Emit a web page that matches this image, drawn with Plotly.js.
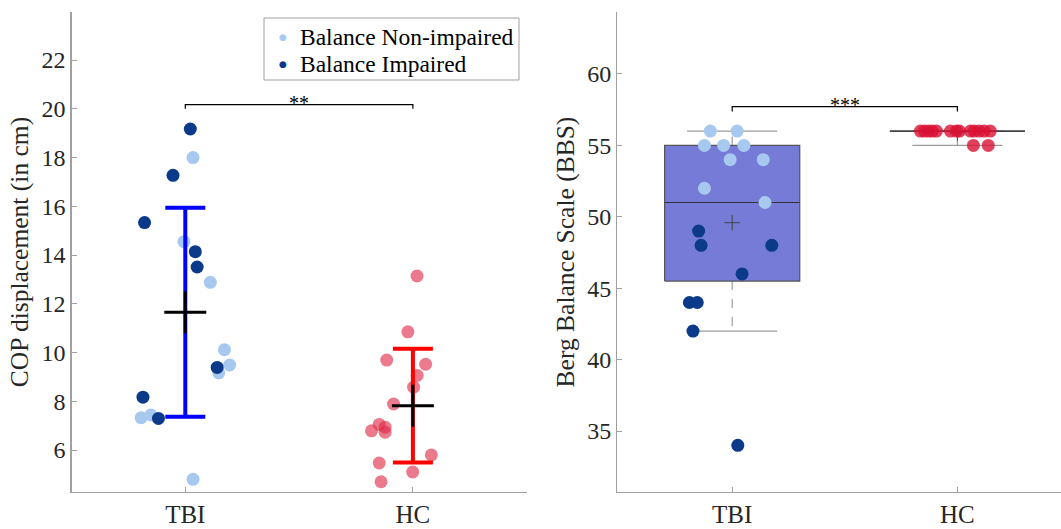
<!DOCTYPE html>
<html>
<head>
<meta charset="utf-8">
<script src="https://cdn.plot.ly/plotly-3.0.1.min.js"></script>
<style>html,body{margin:0;padding:0;background:#fff;}#chart{width:1061px;height:529px;}</style>
</head>
<body>
<div id="chart"></div>
<script>
// ---------- data ----------
const groups = ['TBI', 'HC'];
const groupPos = [1, 2];
const legendLabels = ['Balance Non-impaired', 'Balance Impaired'];

// COP displacement (cm)
const copTbiNonImp  = [18.0, 14.55, 12.88, 10.12, 9.49, 9.17, 7.33, 7.44, 4.80];
const copTbiNonImpX = [1.034, 0.994, 1.110, 1.172, 1.195, 1.147, 0.806, 0.849, 1.034];
const copTbiImp     = [19.17, 17.27, 15.33, 14.14, 13.51, 9.39, 8.17, 7.30];
const copTbiImpX    = [1.022, 0.946, 0.821, 1.044, 1.052, 1.140, 0.814, 0.882];
const copHc         = [13.14, 10.85, 9.69, 9.52, 9.06, 8.58, 7.89, 7.05, 6.79, 6.94, 6.73, 5.80, 5.47, 5.10, 4.70];
const copHcX        = [2.018, 1.978, 1.885, 2.056, 2.019, 2.003, 1.915, 1.852, 1.818, 1.878, 1.878, 2.081, 1.852, 1.999, 1.860];

// Berg Balance Scale
const bbsTbiNonImp  = [56, 56, 55, 55, 55, 54, 54, 52, 51];
const bbsTbiNonImpX = [0.903, 1.022, 0.877, 0.962, 1.052, 0.991, 1.138, 0.877, 1.146];
const bbsTbiImp     = [49, 48, 48, 46, 44, 44, 42, 34];
const bbsTbiImpX    = [0.851, 0.862, 1.176, 1.044, 0.810, 0.845, 0.826, 1.025];
const bbsHc         = [56, 56, 56, 56, 56, 56, 56, 56, 56, 56, 56, 56, 56, 55, 55];
const bbsHcX        = [1.836, 1.854, 1.872, 1.889, 1.907, 1.969, 1.996, 2.009, 2.058, 2.075, 2.097, 2.119, 2.146, 2.071, 2.137];

// box statistics (BBS)
const boxQ1      = [45.5, 56];
const boxMedian  = [51, 56];
const boxQ3      = [55, 56];
const whiskerLow = [42, 55];
const whiskerHigh= [56, 56];

// significance
const sigLeft  = {label: '**',  top: 20.17, foot: 20.0};
const sigRight = {label: '***', top: 57.72, foot: 57.38};

// ---------- helpers ----------
const mean = a => a.reduce((s, v) => s + v, 0) / a.length;
const sd = a => { const m = mean(a); return Math.sqrt(a.reduce((s, v) => s + (v - m) * (v - m), 0) / (a.length - 1)); };

const LIGHT = '#a8c9ef';
const DARK = '#0b3a8b';
const FONT = 'Liberation Serif';
const TXT = '#262626';
const AX = '#a0a0a0';

const copTbiAll = copTbiNonImp.concat(copTbiImp);
const copMeans = [mean(copTbiAll), mean(copHc)];
const copSds = [sd(copTbiAll), sd(copHc)];
const bbsTbiAll = bbsTbiNonImp.concat(bbsTbiImp);
const bbsMeans = [mean(bbsTbiAll), mean(bbsHc)];

const traces = [];

// ---- left panel points ----
traces.push({type: 'scatter', mode: 'markers', x: copTbiNonImpX, y: copTbiNonImp, xaxis: 'x', yaxis: 'y',
  marker: {color: LIGHT, size: 13}, showlegend: false, hoverinfo: 'skip'});
traces.push({type: 'scatter', mode: 'markers', x: copTbiImpX, y: copTbiImp, xaxis: 'x', yaxis: 'y',
  marker: {color: DARK, size: 13}, showlegend: false, hoverinfo: 'skip'});
traces.push({type: 'scatter', mode: 'markers', x: copHcX, y: copHc, xaxis: 'x', yaxis: 'y',
  marker: {color: 'rgba(222,40,70,0.62)', size: 13}, showlegend: false, hoverinfo: 'skip'});

// error bars (mean ± SD)
const ebColors = ['#0000ff', '#ff0000'];
groupPos.forEach((p, i) => {
  traces.push({type: 'scatter', mode: 'markers', x: [p], y: [copMeans[i]], xaxis: 'x', yaxis: 'y',
    marker: {size: 1, color: 'rgba(0,0,0,0)'},
    error_y: {type: 'data', array: [copSds[i]], color: ebColors[i], thickness: 4, width: 20},
    showlegend: false, hoverinfo: 'skip'});
});
traces.push({type: 'scatter', mode: 'markers', x: groupPos, y: copMeans, xaxis: 'x', yaxis: 'y',
  marker: {symbol: 'cross-thin', size: 30, line: {color: '#000', width: 3}, color: '#000'},
  showlegend: false, hoverinfo: 'skip'});

// significance bracket left
traces.push({type: 'scatter', mode: 'lines', x: [groupPos[0], groupPos[0], groupPos[1], groupPos[1]],
  y: [sigLeft.foot, sigLeft.top, sigLeft.top, sigLeft.foot], xaxis: 'x', yaxis: 'y',
  line: {color: '#000', width: 1.2}, showlegend: false, hoverinfo: 'skip'});

// ---- right panel boxes ----
const BW = 0.3, CW = 0.2;
groupPos.forEach((p, i) => {
  traces.push({type: 'scatter', mode: 'lines', x: [p, p, null, p, p],
    y: [boxQ3[i], whiskerHigh[i], null, boxQ1[i], whiskerLow[i]], xaxis: 'x2', yaxis: 'y2',
    line: {color: '#8a8a8a', width: 1, dash: i === 0 ? 'dash' : 'solid'}, showlegend: false, hoverinfo: 'skip'});
  traces.push({type: 'scatter', mode: 'lines', x: [p - CW, p + CW, null, p - CW, p + CW],
    y: [whiskerHigh[i], whiskerHigh[i], null, whiskerLow[i], whiskerLow[i]], xaxis: 'x2', yaxis: 'y2',
    line: {color: '#9a9a9a', width: 1.3}, showlegend: false, hoverinfo: 'skip'});
  traces.push({type: 'scatter', mode: 'lines', x: [p - BW, p + BW, p + BW, p - BW, p - BW],
    y: [boxQ1[i], boxQ1[i], boxQ3[i], boxQ3[i], boxQ1[i]], xaxis: 'x2', yaxis: 'y2',
    fill: 'toself', fillcolor: '#757bd6', line: {color: '#555', width: 1.2}, showlegend: false, hoverinfo: 'skip'});
  traces.push({type: 'scatter', mode: 'lines', x: [p - BW, p + BW], y: [boxMedian[i], boxMedian[i]],
    xaxis: 'x2', yaxis: 'y2', line: {color: '#333', width: 1.2}, showlegend: false, hoverinfo: 'skip'});
});
traces.push({type: 'scatter', mode: 'markers', x: groupPos, y: bbsMeans, xaxis: 'x2', yaxis: 'y2',
  marker: {symbol: 'cross-thin', size: 11, line: {color: '#444', width: 1}},
  showlegend: false, hoverinfo: 'skip'});

// right points
traces.push({type: 'scatter', mode: 'markers', x: bbsTbiNonImpX, y: bbsTbiNonImp, xaxis: 'x2', yaxis: 'y2',
  marker: {color: LIGHT, size: 13}, showlegend: false, hoverinfo: 'skip'});
traces.push({type: 'scatter', mode: 'markers', x: bbsTbiImpX, y: bbsTbiImp, xaxis: 'x2', yaxis: 'y2',
  marker: {color: DARK, size: 13}, showlegend: false, hoverinfo: 'skip'});
traces.push({type: 'scatter', mode: 'markers', x: bbsHcX, y: bbsHc, xaxis: 'x2', yaxis: 'y2',
  marker: {color: 'rgba(218,18,52,0.8)', size: 13}, showlegend: false, hoverinfo: 'skip'});

// significance bracket right
traces.push({type: 'scatter', mode: 'lines', x: [groupPos[0], groupPos[0], groupPos[1], groupPos[1]],
  y: [sigRight.foot, sigRight.top, sigRight.top, sigRight.foot], xaxis: 'x2', yaxis: 'y2',
  line: {color: '#000', width: 1.2}, showlegend: false, hoverinfo: 'skip'});

const axisCommon = {
  showgrid: false, zeroline: false, showline: true, linecolor: AX, linewidth: 1.3,
  ticks: 'inside', ticklen: 5, tickcolor: AX, tickwidth: 1,
  tickfont: {family: FONT, size: 24, color: TXT}
};
const titleFont = {family: FONT, size: 25.5, color: TXT};

// manual legend (paper coordinates, px -> paper)
const W = 1061, PT = 12, PH = 480;
const px2x = px => px / W;
const py2y = py => 1 - (py - PT) / PH;
const legendRowsPx = [37, 64];
const legendColors = [LIGHT, DARK];
const legendAnn = [];
legendLabels.forEach((lab, i) => {
  legendAnn.push({xref: 'paper', yref: 'paper', x: px2x(283), y: py2y(legendRowsPx[i]), text: '●',
    showarrow: false, xanchor: 'center', yanchor: 'middle', font: {family: 'DejaVu Sans', size: 9, color: legendColors[i]}});
  legendAnn.push({xref: 'paper', yref: 'paper', x: px2x(298), y: py2y(legendRowsPx[i]), text: lab,
    showarrow: false, xanchor: 'left', yanchor: 'middle', font: {family: FONT, size: 23.5, color: '#000'}});
});

const layout = {
  width: 1061, height: 529,
  margin: {l: 0, r: 0, t: 12, b: 37},
  paper_bgcolor: '#fff', plot_bgcolor: '#fff',
  font: {family: FONT, color: TXT},
  showlegend: false,
  shapes: [{type: 'rect', xref: 'paper', yref: 'paper', x0: px2x(264), x1: px2x(519), y0: py2y(80), y1: py2y(18),
    line: {color: '#a0a0a0', width: 1}, fillcolor: '#fff', layer: 'above'}],
  xaxis: Object.assign({}, axisCommon, {domain: [71.5 / 1061, 526.7 / 1061], range: [0.5, 2.5],
    tickvals: groupPos, ticktext: groups, anchor: 'y', tickfont: {family: FONT, size: 25, color: TXT}}),
  yaxis: Object.assign({}, axisCommon, {domain: [0, 1], range: [4.28, 23.97], tickvals: [6, 8, 10, 12, 14, 16, 18, 20, 22],
    anchor: 'x', title: {text: 'COP displacement (in cm)', font: titleFont, standoff: 5}}),
  xaxis2: Object.assign({}, axisCommon, {domain: [617.3 / 1061, 1], range: [0.49, 2.46],
    tickvals: groupPos, ticktext: groups, anchor: 'y2', tickfont: {family: FONT, size: 25, color: TXT}}),
  yaxis2: Object.assign({}, axisCommon, {domain: [0, 1], range: [30.73, 64.34], tickvals: [35, 40, 45, 50, 55, 60],
    anchor: 'x2', title: {text: 'Berg Balance Scale (BBS)', font: titleFont, standoff: 5}}),
  annotations: [
    {xref: 'x', yref: 'y', x: 1.5, y: sigLeft.top, text: sigLeft.label, showarrow: false, yanchor: 'bottom',
      font: {family: FONT, size: 20, color: '#000'}, yshift: -11},
    {xref: 'x2', yref: 'y2', x: 1.5, y: sigRight.top, text: sigRight.label, showarrow: false, yanchor: 'bottom',
      font: {family: FONT, size: 20, color: '#000'}, yshift: -11}
  ].concat(legendAnn)
};

Plotly.newPlot('chart', traces, layout, {staticPlot: true, displayModeBar: false});
</script>
</body>
</html>
